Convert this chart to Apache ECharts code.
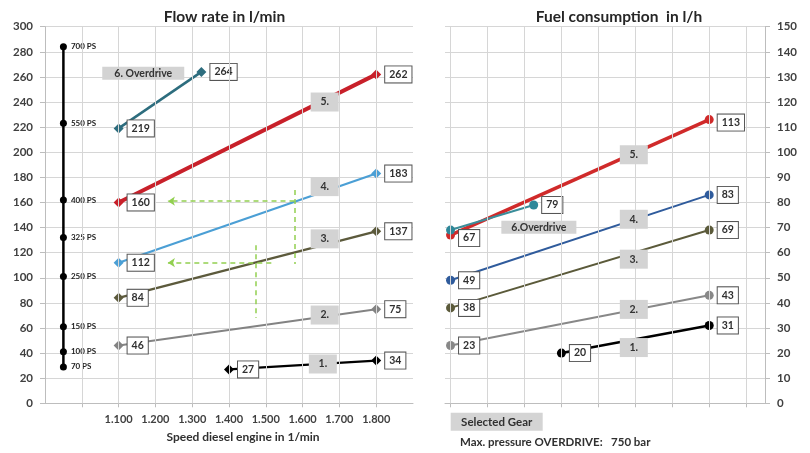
<!DOCTYPE html>
<html><head><meta charset="utf-8">
<script src="https://cdn.jsdelivr.net/npm/echarts@6/dist/echarts.min.js"></script>
<style>html,body{margin:0;padding:0;background:#fff}#c{width:810px;height:453px}</style>
</head><body><div id="c"></div>
<script>
// ---- data ----
const speedTicks = [1.1, 1.2, 1.3, 1.4, 1.5, 1.6, 1.7, 1.8];
const leftGridX = [1.0, 1.1, 1.2, 1.3, 1.4, 1.5, 1.6, 1.7, 1.8];
const rightGridX = [1.1, 1.2, 1.3, 1.4, 1.5, 1.6, 1.7, 1.8, 1.9];

const flowOverdrive = [[1.1, 219], [1.325, 264]];
const flow5 = [[1.1, 160], [1.8, 262]];
const flow4 = [[1.1, 112], [1.8, 183]];
const flow3 = [[1.1, 84], [1.8, 137]];
const flow2 = [[1.1, 46], [1.8, 75]];
const flow1 = [[1.4, 27], [1.8, 34]];

const fuelOverdrive = [[1.1, 69], [1.325, 79]];
const fuel5 = [[1.1, 67], [1.8, 113]];
const fuel4 = [[1.1, 49], [1.8, 83]];
const fuel3 = [[1.1, 38], [1.8, 69]];
const fuel2 = [[1.1, 23], [1.8, 43]];
const fuel1 = [[1.4, 20], [1.8, 31]];

const psX = 0.95;
const psLabels = ['700 PS', '550 PS', '400 PS', '325 PS', '250 PS', '150 PS', '100 PS', '70 PS'];
const psFlow = [284, 223, 162, 132, 101, 61, 41, 29];

const flowGearNames = ['6. Overdrive', '5.', '4.', '3.', '2.', '1.'];
const flowGearPos = [[1.167, 263], [1.66, 240], [1.66, 172.6], [1.66, 131], [1.66, 70.3], [1.655, 31.3]];
const fuelGearNames = ['6.Overdrive', '5.', '4.', '3.', '2.', '1.'];
const fuelGearPos = [[1.339, 70.1], [1.596, 99], [1.596, 73.3], [1.596, 57.4], [1.596, 37.4], [1.596, 22.2]];

const guideVertical = [[[1.578, 170], [1.578, 111]], [[1.474, 126], [1.474, 68]]];
const guideArrow = [[[1.578, 161], [1.234, 161]], [[1.515, 112], [1.234, 112]]];

// ---- styling helpers ----
const FONT = 'Lato';
const TXT = '#303030';
const GRID = '#d6d6d6';
const AXIS = '#bdbdbd';

function valueLabel(extra) {
  return Object.assign({
    show: true, position: 'right', distance: 4,
    formatter: p => p.value[1],
    backgroundColor: '#fff', borderColor: '#555', borderWidth: 1,
    padding: [2, 4], lineHeight: 12,
    fontFamily: FONT, fontSize: 10.5, fontWeight: 'bold', color: TXT
  }, extra || {});
}

function lineS(gi, data, color, width, symbol, size, opts) {
  opts = opts || {};
  return {
    type: 'line', xAxisIndex: gi, yAxisIndex: gi,
    data: data.map((d, i) => {
      const item = { value: d };
      if (opts.hide && opts.hide.includes(i)) item.label = { show: false };
      return item;
    }),
    symbol: symbol, symbolSize: size,
    lineStyle: { color: color, width: width },
    itemStyle: { color: opts.markerColor || color },
    label: valueLabel(opts.label),
    z: opts.z || 3, silent: true, animation: false,
    emphasis: { disabled: true }
  };
}

function gearS(gi, names, pos, odWidth) {
  return {
    type: 'scatter', xAxisIndex: gi, yAxisIndex: gi,
    data: pos.map((p, i) => ({ value: p, name: names[i] })),
    symbol: 'rect',
    symbolSize: (v, p) => p.name.indexOf('Overdrive') >= 0 ? [odWidth, 13] : [28, 19],
    itemStyle: { color: '#d3d3d3', opacity: 1 },
    label: {
      show: true, position: 'inside', formatter: p => p.name,
      fontFamily: FONT, fontSize: 10.5, fontWeight: 'bold', color: '#333'
    },
    z: 6, silent: true, animation: false, emphasis: { disabled: true }
  };
}

function gridLinesS(gi, xs) {
  return {
    type: 'line', xAxisIndex: gi, yAxisIndex: gi, data: [], silent: true, z: 1,
    markLine: {
      silent: true, symbol: ['none', 'none'], animation: false,
      label: { show: false },
      lineStyle: { color: GRID, width: 1, type: 'solid' },
      emphasis: { disabled: true },
      data: xs.map(x => ({ xAxis: x }))
    }
  };
}

function axisLabelStyle(extra) {
  return Object.assign({ fontFamily: FONT, fontSize: 11.5, fontWeight: 'bold', color: '#404040' }, extra || {});
}

const chart = echarts.init(document.getElementById('c'));
chart.setOption({
  backgroundColor: '#fff',
  animation: false,
  grid: [
    { left: 45, right: 397, top: 26.7, bottom: 49.7 },
    { left: 445, right: 45, top: 26.7, bottom: 49.7 }
  ],
  xAxis: [
    {
      gridIndex: 0, type: 'value', min: 0.9, max: 1.9,
      axisLine: { show: true, lineStyle: { color: AXIS } },
      axisTick: { show: true, length: 4, customValues: leftGridX, lineStyle: { color: AXIS } },
      axisLabel: axisLabelStyle({ customValues: speedTicks, margin: 11, fontSize: 11,
        formatter: v => { const s = Math.round(v * 1000).toString(); return s[0] + '.' + s.slice(1); } }),
      splitLine: { show: false }
    },
    {
      gridIndex: 1, type: 'value', min: 1.085, max: 1.951,
      axisLine: { show: true, lineStyle: { color: AXIS } },
      axisTick: { show: true, length: 4, customValues: rightGridX, lineStyle: { color: AXIS } },
      axisLabel: { show: false },
      splitLine: { show: false }
    }
  ],
  yAxis: [
    {
      gridIndex: 0, type: 'value', min: 0, max: 300, interval: 20, position: 'left',
      axisLine: { show: true, lineStyle: { color: AXIS } },
      axisTick: { show: true, length: 5, lineStyle: { color: AXIS } },
      axisLabel: axisLabelStyle({ margin: 12 }),
      splitLine: { show: true, lineStyle: { color: GRID } }
    },
    {
      gridIndex: 1, type: 'value', min: 0, max: 150, interval: 10, position: 'right',
      axisLine: { show: true, lineStyle: { color: AXIS } },
      axisTick: { show: true, length: 5, lineStyle: { color: AXIS } },
      axisLabel: axisLabelStyle({ margin: 12 }),
      splitLine: { show: true, lineStyle: { color: GRID } }
    }
  ],
  series: [
    gridLinesS(0, leftGridX),
    gridLinesS(1, rightGridX),
    {
      type: 'line', xAxisIndex: 0, yAxisIndex: 0, data: [], silent: true, z: 2,
      markLine: {
        silent: true, animation: false, symbol: ['none', 'none'], symbolSize: 7,
        label: { show: false }, emphasis: { disabled: true },
        lineStyle: { color: '#92d050', width: 1.5, type: [5, 4] },
        data: guideVertical.map(s => [{ coord: s[0] }, { coord: s[1] }])
          .concat(guideArrow.map(s => [{ coord: s[0] }, { coord: s[1], symbol: 'arrow' }]))
      }
    },
    {
      type: 'line', xAxisIndex: 0, yAxisIndex: 0,
      data: psFlow.map(y => [psX, y]),
      symbol: 'circle', symbolSize: 7,
      lineStyle: { color: '#000', width: 2.5 }, itemStyle: { color: '#000' },
      label: { show: true, position: 'right', distance: 4,
        formatter: p => psLabels[p.dataIndex],
        fontFamily: FONT, fontSize: 8, fontWeight: 'bold', color: '#222' },
      z: 3, silent: true, animation: false, emphasis: { disabled: true }
    },
    lineS(0, flowOverdrive, '#2d6d7e', 2.5, 'diamond', 10),
    lineS(0, flow5, '#c8202a', 4, 'diamond', 10),
    lineS(0, flow4, '#4b9fd5', 2.2, 'diamond', 10),
    lineS(0, flow3, '#5c5a3c', 2.2, 'diamond', 10),
    lineS(0, flow2, '#838383', 2, 'diamond', 10),
    lineS(0, flow1, '#000', 2.2, 'diamond', 10),
    lineS(1, fuelOverdrive, '#3a8d9a', 2, 'circle', 9, { hide: [0], markerColor: '#2e8799', z: 4 }),
    lineS(1, fuel5, '#d02a2a', 3.5, 'circle', 9, { label: { offset: [0, 3] } }),
    lineS(1, fuel4, '#2f5b9c', 2, 'circle', 9),
    lineS(1, fuel3, '#5b5a3a', 2, 'circle', 9),
    lineS(1, fuel2, '#888', 2, 'circle', 9),
    lineS(1, fuel1, '#000', 2.5, 'circle', 9),
    gearS(0, flowGearNames, flowGearPos, 82),
    gearS(1, fuelGearNames, fuelGearPos, 75)
  ],
  graphic: [
    { type: 'text', x: 224.5, y: 17, style: { text: 'Flow rate in l/min', align: 'center', verticalAlign: 'middle',
      font: 'bold 15.5px ' + FONT, fill: '#262626' } },
    { type: 'text', x: 619, y: 17, style: { text: 'Fuel consumption  in l/h', align: 'center', verticalAlign: 'middle',
      font: 'bold 15.5px ' + FONT, fill: '#262626' } },
    { type: 'text', x: 243, y: 437.5, style: { text: 'Speed diesel engine in 1/min', align: 'center', verticalAlign: 'middle',
      font: 'bold 12px ' + FONT, fill: TXT } },
    { type: 'rect', shape: { x: 450.7, y: 412.7, width: 92, height: 18 }, style: { fill: '#d4d4d4' } },
    { type: 'text', x: 496.7, y: 422, style: { text: 'Selected Gear', align: 'center', verticalAlign: 'middle',
      font: 'bold 11.5px ' + FONT, fill: TXT } },
    { type: 'text', x: 460, y: 442, style: { text: 'Max. pressure OVERDRIVE:   750 bar', align: 'left', verticalAlign: 'middle',
      font: 'bold 11.5px ' + FONT, fill: TXT } }
  ]
});
</script></body></html>
